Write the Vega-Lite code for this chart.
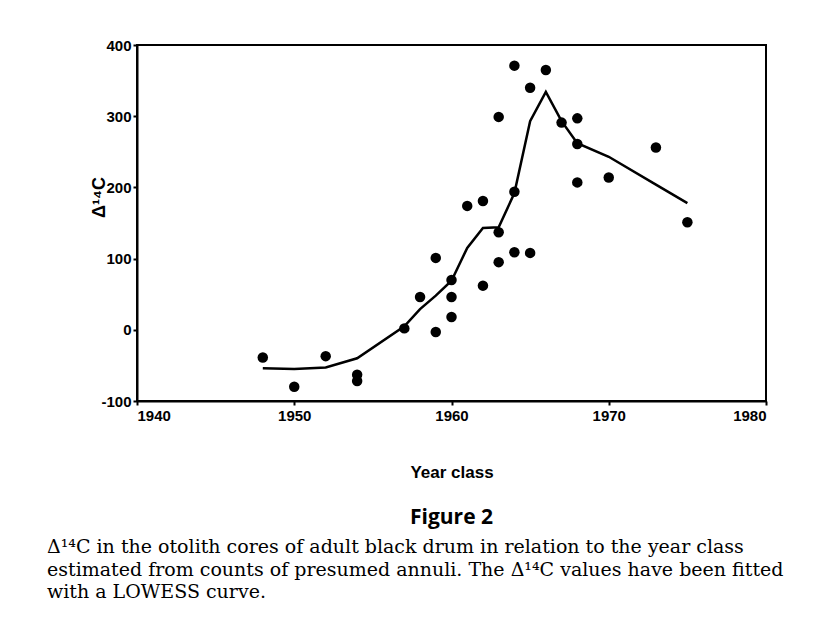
{
  "$schema": "https://vega.github.io/schema/vega-lite/v6.json",
  "padding": {"left": 47, "top": 37, "right": 5, "bottom": 5},
  "background": "white",
  "config": {
    "view": {"stroke": "black", "strokeWidth": 2},
    "axis": {
      "domainColor": "black", "domainWidth": 2,
      "tickColor": "black", "tickWidth": 2, "tickSize": 4,
      "grid": false,
      "labelFont": "Liberation Sans", "labelFontSize": 15, "labelFontWeight": "bold", "labelColor": "black",
      "titleFont": "Liberation Sans", "titleColor": "black", "titleFontWeight": "bold"
    }
  },
  "datasets": {
    "pts": [
      {"year": 1948, "d14c": -39}, {"year": 1950, "d14c": -80}, {"year": 1952, "d14c": -37},
      {"year": 1954, "d14c": -63}, {"year": 1954, "d14c": -72}, {"year": 1957, "d14c": 2},
      {"year": 1958, "d14c": 46}, {"year": 1959, "d14c": 101}, {"year": 1959, "d14c": -3},
      {"year": 1960, "d14c": 70}, {"year": 1960, "d14c": 46}, {"year": 1960, "d14c": 18},
      {"year": 1961, "d14c": 174}, {"year": 1962, "d14c": 62}, {"year": 1962, "d14c": 181},
      {"year": 1963, "d14c": 95}, {"year": 1963, "d14c": 137}, {"year": 1963, "d14c": 299},
      {"year": 1964, "d14c": 109}, {"year": 1964, "d14c": 194}, {"year": 1964, "d14c": 371},
      {"year": 1965, "d14c": 108}, {"year": 1965, "d14c": 340}, {"year": 1966, "d14c": 365},
      {"year": 1967, "d14c": 291}, {"year": 1968, "d14c": 297}, {"year": 1968, "d14c": 261},
      {"year": 1968, "d14c": 207}, {"year": 1970, "d14c": 214}, {"year": 1973, "d14c": 256},
      {"year": 1975, "d14c": 151}
    ],
    "fit": [
      {"year": 1948, "d14c": -54}, {"year": 1950, "d14c": -55}, {"year": 1952, "d14c": -53},
      {"year": 1954, "d14c": -40}, {"year": 1957, "d14c": 5}, {"year": 1958, "d14c": 29},
      {"year": 1959, "d14c": 48}, {"year": 1960, "d14c": 69}, {"year": 1961, "d14c": 115},
      {"year": 1962, "d14c": 143}, {"year": 1963, "d14c": 144}, {"year": 1964, "d14c": 192},
      {"year": 1965, "d14c": 293}, {"year": 1966, "d14c": 334}, {"year": 1967, "d14c": 293},
      {"year": 1968, "d14c": 262}, {"year": 1970, "d14c": 243}, {"year": 1973, "d14c": 204},
      {"year": 1975, "d14c": 178}
    ]
  },
  "title": {
    "text": [
      "Δ¹⁴C in the otolith cores of adult black drum in relation to the year class",
      "estimated from counts of presumed annuli. The Δ¹⁴C values have been fitted",
      "with a LOWESS curve."
    ],
    "orient": "bottom", "anchor": "start", "frame": "bounds",
    "font": "DejaVu Serif", "fontSize": 19, "fontWeight": "normal", "lineHeight": 22.5,
    "color": "black", "offset": 9, "dx": -42
  },
  "vconcat": [
    {
      "width": 629,
      "height": 356,
      "title": {
        "text": "Figure 2", "orient": "bottom", "anchor": "middle", "frame": "group",
        "font": "Open Sans", "fontSize": 21, "fontWeight": "bold", "color": "black", "offset": 27
      },
      "encoding": {
        "x": {
          "field": "year", "type": "quantitative",
          "scale": {"domain": [1940, 1980], "nice": false, "zero": false},
          "axis": {"values": [1940, 1950, 1960, 1970, 1980], "format": "d", "title": "Year class",
                   "labelPadding": 3, "titlePadding": 41, "titleFontSize": 17}
        },
        "y": {
          "field": "d14c", "type": "quantitative",
          "scale": {"domain": [-100, 400], "nice": false, "zero": false},
          "axis": {"values": [-100, 0, 100, 200, 300, 400], "title": "Δ¹⁴C", "labelPadding": 2,
                   "labelExpr": "replace(datum.label, '−', '-')",
                   "titleFontSize": 18, "titleX": -38, "titleY": 152, "titleAngle": -90,
                   "titleAlign": "center", "titleBaseline": "middle"}
        }
      },
      "layer": [
        {"data": {"name": "fit"}, "mark": {"type": "line", "color": "black", "strokeWidth": 2.5}, "encoding": {}},
        {"data": {"name": "pts"}, "mark": {"type": "circle", "size": 110, "color": "black", "opacity": 1}}
      ]
    }
  ]
}
